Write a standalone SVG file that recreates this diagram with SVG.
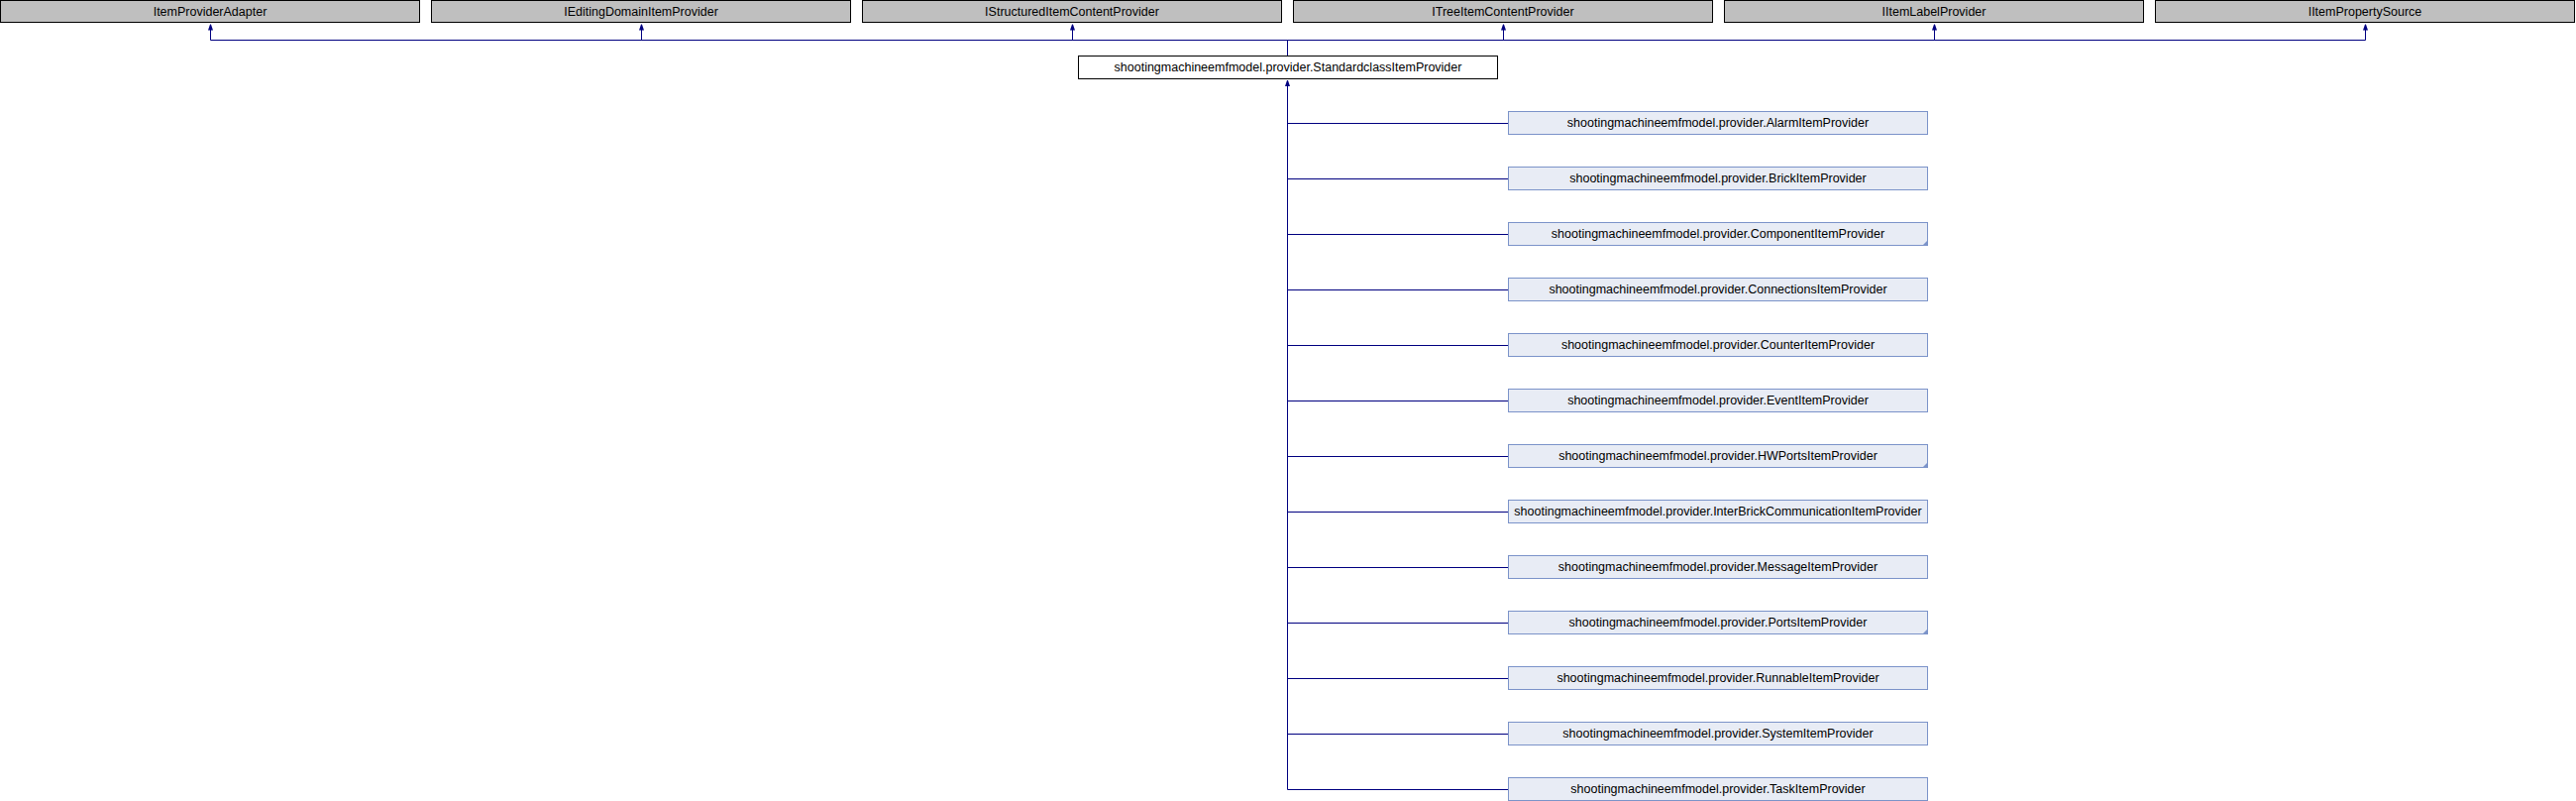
<svg xmlns="http://www.w3.org/2000/svg" width="2600" height="808" viewBox="0 0 2600 808">
<style>
text{font-family:"Liberation Sans",Arial,Helvetica,sans-serif;font-size:12.5px;fill:#000;text-anchor:middle}
.ext{fill:#bfbfbf;stroke:#000;stroke-width:1}
.cur{fill:#fff;stroke:#000;stroke-width:1}
.doc{fill:#e8ecf5;stroke:#7b93c9;stroke-width:1}
.more{fill:#7b93c9;stroke:none}
.edge{fill:none;stroke:#000080;stroke-width:1}
</style>
<defs>
<marker id="arr" viewBox="0 0 6 6" refX="6" refY="3" markerWidth="6" markerHeight="6" markerUnits="userSpaceOnUse" orient="auto">
<path d="M0,0.5 L5,2.2 L6,2.5 L6,3.5 L5,3.8 L0,5.5 Z" fill="#000080"/>
</marker>
</defs>
<rect width="2600" height="808" fill="#fff"/>
<g id="connectors">
<path class="edge" d="M212.5,40.5 H2387.5"/>
<path class="edge" d="M212.5,40.5 V24.5" marker-end="url(#arr)"/>
<path class="edge" d="M647.5,40.5 V24.5" marker-end="url(#arr)"/>
<path class="edge" d="M1082.5,40.5 V24.5" marker-end="url(#arr)"/>
<path class="edge" d="M1517.5,40.5 V24.5" marker-end="url(#arr)"/>
<path class="edge" d="M1952.5,40.5 V24.5" marker-end="url(#arr)"/>
<path class="edge" d="M2387.5,40.5 V24.5" marker-end="url(#arr)"/>
<path class="edge" d="M1299.5,56.5 V40.5"/>
<path class="edge" d="M1299.5,796.5 V81" marker-end="url(#arr)"/>
<path class="edge" d="M1299.5,124.5 H1522.5 M1299.5,180.5 H1522.5 M1299.5,236.5 H1522.5 M1299.5,292.5 H1522.5 M1299.5,348.5 H1522.5 M1299.5,404.5 H1522.5 M1299.5,460.5 H1522.5 M1299.5,516.5 H1522.5 M1299.5,572.5 H1522.5 M1299.5,628.5 H1522.5 M1299.5,684.5 H1522.5 M1299.5,740.5 H1522.5 M1299.5,796.5 H1522.5"/>
</g>
<g id="ItemProviderAdapter"><rect class="ext" x="0.5" y="0.5" width="423" height="22"/><text x="212" y="16">ItemProviderAdapter</text></g>
<g id="IEditingDomainItemProvider"><rect class="ext" x="435.5" y="0.5" width="423" height="22"/><text x="647" y="16">IEditingDomainItemProvider</text></g>
<g id="IStructuredItemContentProvider"><rect class="ext" x="870.5" y="0.5" width="423" height="22"/><text x="1082" y="16">IStructuredItemContentProvider</text></g>
<g id="ITreeItemContentProvider"><rect class="ext" x="1305.5" y="0.5" width="423" height="22"/><text x="1517" y="16">ITreeItemContentProvider</text></g>
<g id="IItemLabelProvider"><rect class="ext" x="1740.5" y="0.5" width="423" height="22"/><text x="1952" y="16">IItemLabelProvider</text></g>
<g id="IItemPropertySource"><rect class="ext" x="2175.5" y="0.5" width="423" height="22"/><text x="2387" y="16">IItemPropertySource</text></g>
<g id="StandardclassItemProvider"><rect class="cur" x="1088.5" y="56.5" width="423" height="23"/><text x="1300" y="72">shootingmachineemfmodel.provider.StandardclassItemProvider</text></g>
<g id="AlarmItemProvider"><rect class="doc" x="1522.5" y="112.5" width="423" height="23"/><text x="1734" y="128">shootingmachineemfmodel.provider.AlarmItemProvider</text></g>
<g id="BrickItemProvider"><rect class="doc" x="1522.5" y="168.5" width="423" height="23"/><text x="1734" y="184">shootingmachineemfmodel.provider.BrickItemProvider</text></g>
<g id="ComponentItemProvider"><rect class="doc" x="1522.5" y="224.5" width="423" height="23"/><path class="more" d="M1946,242 V248 H1940 Z"/><text x="1734" y="240">shootingmachineemfmodel.provider.ComponentItemProvider</text></g>
<g id="ConnectionsItemProvider"><rect class="doc" x="1522.5" y="280.5" width="423" height="23"/><text x="1734" y="296">shootingmachineemfmodel.provider.ConnectionsItemProvider</text></g>
<g id="CounterItemProvider"><rect class="doc" x="1522.5" y="336.5" width="423" height="23"/><text x="1734" y="352">shootingmachineemfmodel.provider.CounterItemProvider</text></g>
<g id="EventItemProvider"><rect class="doc" x="1522.5" y="392.5" width="423" height="23"/><text x="1734" y="408">shootingmachineemfmodel.provider.EventItemProvider</text></g>
<g id="HWPortsItemProvider"><rect class="doc" x="1522.5" y="448.5" width="423" height="23"/><path class="more" d="M1946,466 V472 H1940 Z"/><text x="1734" y="464">shootingmachineemfmodel.provider.HWPortsItemProvider</text></g>
<g id="InterBrickCommunicationItemProvider"><rect class="doc" x="1522.5" y="504.5" width="423" height="23"/><text x="1734" y="520">shootingmachineemfmodel.provider.InterBrickCommunicationItemProvider</text></g>
<g id="MessageItemProvider"><rect class="doc" x="1522.5" y="560.5" width="423" height="23"/><text x="1734" y="576">shootingmachineemfmodel.provider.MessageItemProvider</text></g>
<g id="PortsItemProvider"><rect class="doc" x="1522.5" y="616.5" width="423" height="23"/><path class="more" d="M1946,634 V640 H1940 Z"/><text x="1734" y="632">shootingmachineemfmodel.provider.PortsItemProvider</text></g>
<g id="RunnableItemProvider"><rect class="doc" x="1522.5" y="672.5" width="423" height="23"/><text x="1734" y="688">shootingmachineemfmodel.provider.RunnableItemProvider</text></g>
<g id="SystemItemProvider"><rect class="doc" x="1522.5" y="728.5" width="423" height="23"/><text x="1734" y="744">shootingmachineemfmodel.provider.SystemItemProvider</text></g>
<g id="TaskItemProvider"><rect class="doc" x="1522.5" y="784.5" width="423" height="23"/><text x="1734" y="800">shootingmachineemfmodel.provider.TaskItemProvider</text></g>
</svg>
